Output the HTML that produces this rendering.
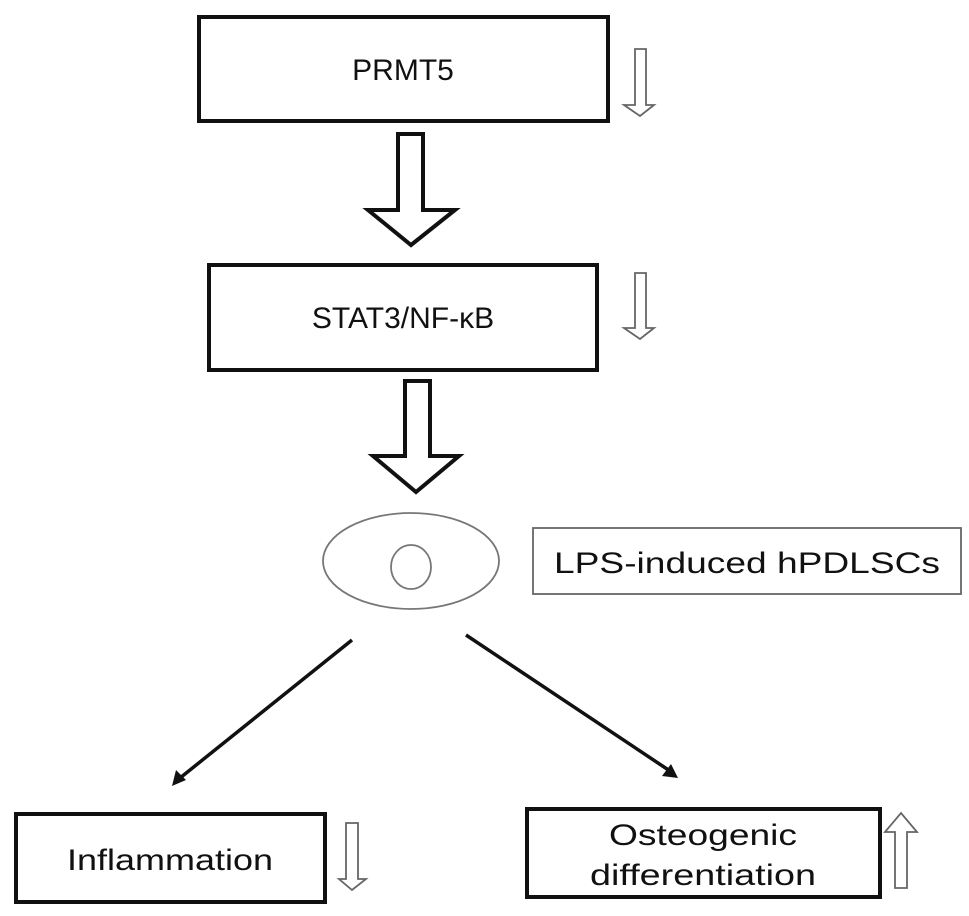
<!DOCTYPE html>
<html><head><style>body{margin:0;background:#fff}svg{display:block}text{font-family:"Liberation Sans",Arial,sans-serif;fill:#111}</style></head>
<body>
<svg width="969" height="916" viewBox="0 0 969 916" xmlns="http://www.w3.org/2000/svg">
<defs><marker id="ah" markerWidth="8" markerHeight="8" refX="6" refY="4" orient="auto" markerUnits="userSpaceOnUse"><path d="M0,0 L14,4 L0,8 Z" fill="#111" transform="scale(0.6,1)"/></marker></defs>
<g fill="none" stroke="#111" stroke-width="4">
<rect x="199" y="17" width="409" height="104"/>
<rect x="209" y="265" width="388" height="105"/>
<rect x="16" y="814" width="309" height="88"/>
<rect x="527" y="809" width="353" height="88"/>
</g>
<text x="403" y="80" font-size="30" text-anchor="middle">PRMT5</text>
<text x="403" y="328" font-size="30" text-anchor="middle">STAT3/NF-κB</text>
<text x="170" y="870" font-size="30" text-anchor="middle" textLength="206" lengthAdjust="spacingAndGlyphs">Inflammation</text>
<text x="703" y="845" font-size="30" text-anchor="middle" textLength="188" lengthAdjust="spacingAndGlyphs">Osteogenic</text>
<text x="703" y="885" font-size="30" text-anchor="middle" textLength="226" lengthAdjust="spacingAndGlyphs">differentiation</text>
<!-- big arrows -->
<path d="M398,134 H423 V210 H455 L411,245 L368,210 H398 Z" fill="#fff" stroke="#111" stroke-width="4" stroke-linejoin="miter"/>
<path d="M405,381 H430 V456 H459 L416,492 L373,456 H405 Z" fill="#fff" stroke="#111" stroke-width="4"/>
<!-- small arrows -->
<g fill="#fff" stroke="#666" stroke-width="1.8">
<path d="M635,49 H646 V105 H654 L640,116 L624,105 H635 Z"/>
<path d="M635,273 H646 V328 H654 L640,339 L624,328 H635 Z"/>
<path d="M346,823 H358 V879 H366 L352,890 L339,879 H346 Z"/>
<path d="M895,888 H907 V832 H917 L901,813 L885,832 H895 Z"/>
</g>
<!-- cell -->
<ellipse cx="411" cy="561" rx="88" ry="48" fill="none" stroke="#777" stroke-width="1.8"/>
<ellipse cx="411" cy="567" rx="20" ry="22" fill="none" stroke="#777" stroke-width="1.8"/>
<rect x="533" y="528" width="428" height="66" fill="none" stroke="#666" stroke-width="1.8"/>
<text x="747" y="573" font-size="30" text-anchor="middle" textLength="386" lengthAdjust="spacingAndGlyphs">LPS-induced hPDLSCs</text>
<!-- lines -->
<g stroke="#111" stroke-width="3.5">
<line x1="352" y1="640" x2="180" y2="778"/>
<line x1="466" y1="635" x2="670" y2="771"/>
</g>
<path d="M172,786 L176,770 L186,780 Z" fill="#111"/>
<path d="M678,778 L662,776 L671,764 Z" fill="#111"/>
</svg>
</body></html>
